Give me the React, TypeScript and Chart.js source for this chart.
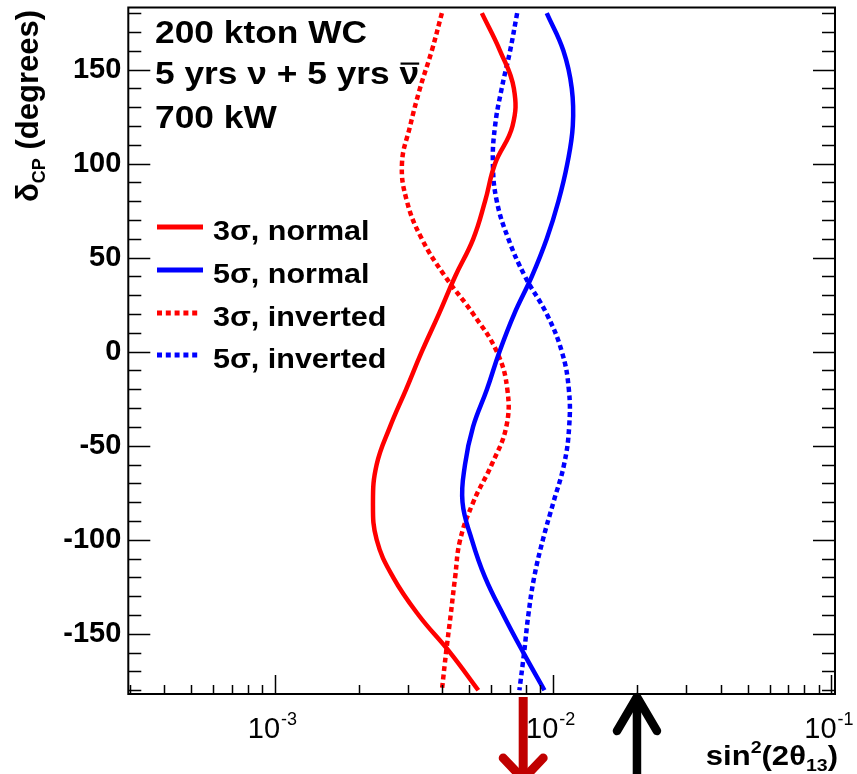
import React, { useEffect, useRef } from "react";
import { Chart, registerables } from "chart.js";

Chart.register(...registerables);

// ---------------- data ----------------
const deltaCP = [180, 160, 140, 120, 100, 80, 60, 40, 20, 0, -20, -40, -60, -80, -100, -120, -140, -160, -180];
const normal3 = [0.00554, 0.00644, 0.00722, 0.00714, 0.00618, 0.00569, 0.00516, 0.00444, 0.00388, 0.00337, 0.00296, 0.00259, 0.00232, 0.00225, 0.00232, 0.00266, 0.00328, 0.00426, 0.00538];
const normal5 = [0.00948, 0.01088, 0.01166, 0.01176, 0.01124, 0.01044, 0.00948, 0.00838, 0.00724, 0.00641, 0.00578, 0.00515, 0.00482, 0.00472, 0.0051, 0.00569, 0.00662, 0.00781, 0.0093];
const inverted3 = [0.00398, 0.00366, 0.00332, 0.00306, 0.00286, 0.00298, 0.00337, 0.00409, 0.00516, 0.00627, 0.00684, 0.00678, 0.00601, 0.00516, 0.00463, 0.00444, 0.00428, 0.00412, 0.00398];
const inverted5 = [0.00742, 0.007, 0.00653, 0.00618, 0.00607, 0.00627, 0.0069, 0.00792, 0.00948, 0.01074, 0.01138, 0.01141, 0.01094, 0.01002, 0.00918, 0.00854, 0.00814, 0.00786, 0.00756];

const seriesLabels = ["3σ, normal", "5σ, normal", "3σ, inverted", "5σ, inverted"];

const yMajorTicks = [-150, -100, -50, 0, 50, 100, 150];
const xMajorTicks = [1e-3, 1e-2, 1e-1];
const xTickExponents = ["-3", "-2", "-1"];

const headerLines = ["200 kton WC", "5 yrs ν + 5 yrs ", "700 kW"];

const arrowDown = 0.0078; // red arrow
const arrowUp = 0.02; // black arrow

const X_MIN = 2.97e-4;
const X_MAX = 0.103;
const Y_MIN = -182;
const Y_MAX = 183;

const FONT = '"Liberation Sans", Arial, Helvetica, sans-serif';

function stretchText(ctx: CanvasRenderingContext2D, s: string, x: number, y: number, sx: number) {
  ctx.save();
  ctx.translate(x, y);
  ctx.scale(sx, 1);
  ctx.fillText(s, 0, 0);
  ctx.restore();
  return ctx.measureText(s).width * sx;
}

const rootPlugin = {
  id: "rootStyle",
  afterDraw(chart: any) {
    const { ctx, chartArea: a, scales } = chart;
    const xs = scales.x;
    const ys = scales.y;
    ctx.save();
    ctx.strokeStyle = "#000";
    ctx.fillStyle = "#000";

    // ticks
    ctx.lineWidth = 1.5;
    ctx.beginPath();
    for (let v = -180; v <= 180; v += 10) {
      const y = Math.round(ys.getPixelForValue(v)) + 0.5;
      const len = yMajorTicks.includes(v) ? 22 : 13;
      ctx.moveTo(a.left, y);
      ctx.lineTo(a.left + len, y);
      ctx.moveTo(a.right, y);
      ctx.lineTo(a.right - len, y);
    }
    for (let e = -4; e <= -1; e++) {
      for (let k = 1; k <= 9; k++) {
        const v = k * Math.pow(10, e);
        if (v < X_MIN || v > X_MAX) continue;
        const x = Math.round(xs.getPixelForValue(v)) + 0.5;
        const len = k === 1 ? 19 : 9;
        ctx.moveTo(x, a.bottom);
        ctx.lineTo(x, a.bottom - len);
      }
    }
    ctx.stroke();

    // frame
    ctx.lineWidth = 2;
    ctx.strokeRect(a.left, a.top, a.right - a.left, a.bottom - a.top);

    // x tick labels with superscripts
    ctx.textBaseline = "alphabetic";
    ctx.textAlign = "left";
    xMajorTicks.forEach((v, i) => {
      const px = xs.getPixelForValue(v);
      ctx.font = `29px ${FONT}`;
      const wb = ctx.measureText("10").width;
      ctx.font = `18px ${FONT}`;
      const we = ctx.measureText(xTickExponents[i]).width;
      const x0 = px - (wb + we) / 2 - 3;
      ctx.font = `29px ${FONT}`;
      ctx.fillText("10", x0, 738);
      ctx.font = `18px ${FONT}`;
      ctx.fillText(xTickExponents[i], x0 + wb + 1, 725);
    });

    // x axis title: sin²(2θ13)
    {
      const sx = 1.15;
      const big = `bold 27px ${FONT}`;
      const small = `bold 17px ${FONT}`;
      const parts: [string, string, number][] = [
        ["sin", big, 0],
        ["2", small, -12],
        ["(2θ", big, 0],
        ["13", small, 6],
        [")", big, 0],
      ];
      let w = 0;
      parts.forEach(([s, f]) => {
        ctx.font = f;
        w += ctx.measureText(s).width * sx;
      });
      let x = 838 - w;
      parts.forEach(([s, f, dy]) => {
        ctx.font = f;
        x += stretchText(ctx, s, x, 765 + dy, sx);
      });
    }

    // y axis title: δCP (degrees)
    {
      ctx.save();
      const big = `bold 31px ${FONT}`;
      const small = `bold 18px ${FONT}`;
      const parts: [string, string, number][] = [
        ["δ", big, 0],
        ["CP", small, 7],
        [" (degrees)", big, 0],
      ];
      let w = 0;
      parts.forEach(([s, f]) => {
        ctx.font = f;
        w += ctx.measureText(s).width;
      });
      ctx.translate(38, 10 + w);
      ctx.rotate(-Math.PI / 2);
      let x = 0;
      parts.forEach(([s, f, dy]) => {
        ctx.font = f;
        ctx.fillText(s, x, dy);
        x += ctx.measureText(s).width;
      });
      ctx.restore();
    }

    // header text
    {
      ctx.font = `bold 32px ${FONT}`;
      const sx = 212 / ctx.measureText(headerLines[0]).width;
      const x0 = 155;
      stretchText(ctx, headerLines[0], x0, 43, sx);
      const w1 = stretchText(ctx, headerLines[1], x0, 84, sx);
      const wn = stretchText(ctx, "ν", x0 + w1, 84, sx);
      ctx.fillRect(x0 + w1 + 1, 62.5, wn - 1, 2.2);
      stretchText(ctx, headerLines[2], x0, 128, sx);
    }

    // legend
    {
      ctx.font = `bold 27px ${FONT}`;
      const sx = 101.7 / ctx.measureText("normal").width;
      const rowsY = [227, 270, 313, 355];
      chart.data.datasets.forEach((ds: any, i: number) => {
        const y = rowsY[i];
        const isDot = ds.borderDash && ds.borderDash.length;
        ctx.save();
        ctx.strokeStyle = ds.borderColor;
        ctx.lineWidth = 5;
        ctx.setLineDash(isDot ? [5, 3.8] : []);
        ctx.beginPath();
        ctx.moveTo(157, y);
        ctx.lineTo(isDot ? 201 : 203, y);
        ctx.stroke();
        ctx.restore();
        ctx.fillStyle = "#000";
        stretchText(ctx, ds.label, 213, y + 12.5, sx);
      });
    }

    // arrows below the axis
    ctx.lineJoin = "round";
    {
      const x = xs.getPixelForValue(arrowDown);
      ctx.strokeStyle = "#c00000";
      ctx.lineWidth = 9;
      ctx.beginPath();
      ctx.lineCap = "butt";
      ctx.moveTo(x, 697);
      ctx.lineTo(x, 780);
      ctx.stroke();
      ctx.lineCap = "round";
      ctx.beginPath();
      ctx.moveTo(x - 20, 758);
      ctx.lineTo(x, 779);
      ctx.lineTo(x + 20, 758);
      ctx.stroke();
    }
    {
      const x = xs.getPixelForValue(arrowUp);
      ctx.strokeStyle = "#000";
      ctx.lineWidth = 8.5;
      ctx.beginPath();
      ctx.lineCap = "butt";
      ctx.moveTo(x, 700);
      ctx.lineTo(x, 780);
      ctx.stroke();
      ctx.lineCap = "round";
      ctx.beginPath();
      ctx.moveTo(x - 20, 731);
      ctx.lineTo(x, 697);
      ctx.lineTo(x + 20, 731);
      ctx.stroke();
    }

    ctx.restore();
  },
};

export default function App() {
  const ref = useRef<HTMLCanvasElement | null>(null);

  useEffect(() => {
    if (!ref.current) return;
    const mk = (vals: number[]) => deltaCP.map((d, i) => ({ x: vals[i], y: d }));
    const dotted = [5, 3.5];
    const chart = new Chart(ref.current, {
      type: "line",
      data: {
        datasets: [
          { label: seriesLabels[0], data: mk(normal3), borderColor: "#ff0000", borderDash: [] },
          { label: seriesLabels[1], data: mk(normal5), borderColor: "#0000ff", borderDash: [] },
          { label: seriesLabels[2], data: mk(inverted3), borderColor: "#ff0000", borderDash: dotted },
          { label: seriesLabels[3], data: mk(inverted5), borderColor: "#0000ff", borderDash: dotted },
        ] as any,
      },
      options: {
        animation: false,
        responsive: false,
        devicePixelRatio: 1,
        layout: { padding: { top: 7.5, right: 22, left: 0, bottom: 0 } },
        elements: {
          point: { radius: 0, hoverRadius: 0 },
          line: { borderWidth: 4.5, tension: 0.42, fill: false },
        },
        plugins: { legend: { display: false }, tooltip: { enabled: false } },
        events: [],
        scales: {
          x: {
            type: "logarithmic",
            min: X_MIN,
            max: X_MAX,
            ticks: { display: false },
            grid: { display: false, drawTicks: false },
            border: { display: false },
            afterFit: (s: any) => {
              s.height = 80;
              s.paddingLeft = 0;
              s.paddingRight = 0;
            },
          },
          y: {
            type: "linear",
            min: Y_MIN,
            max: Y_MAX,
            afterBuildTicks: (s: any) => {
              s.ticks = yMajorTicks.map((v) => ({ value: v }));
            },
            ticks: {
              color: "#000",
              padding: 7,
              font: { family: FONT, size: 29, weight: "bold" },
              callback: (v: any) => String(v),
            },
            grid: { display: false, drawTicks: false },
            border: { display: false },
            afterFit: (s: any) => {
              s.width = 128.3;
              s.paddingTop = 0;
              s.paddingBottom = 0;
            },
          },
        },
      } as any,
      plugins: [rootPlugin],
    });
    return () => chart.destroy();
  }, []);

  return (
    <div style={{ position: "absolute", left: 0, top: 0, width: 857, height: 774, background: "#fff" }}>
      <canvas ref={ref} width={857} height={774} style={{ display: "block", width: 857, height: 774 }} />
    </div>
  );
}
